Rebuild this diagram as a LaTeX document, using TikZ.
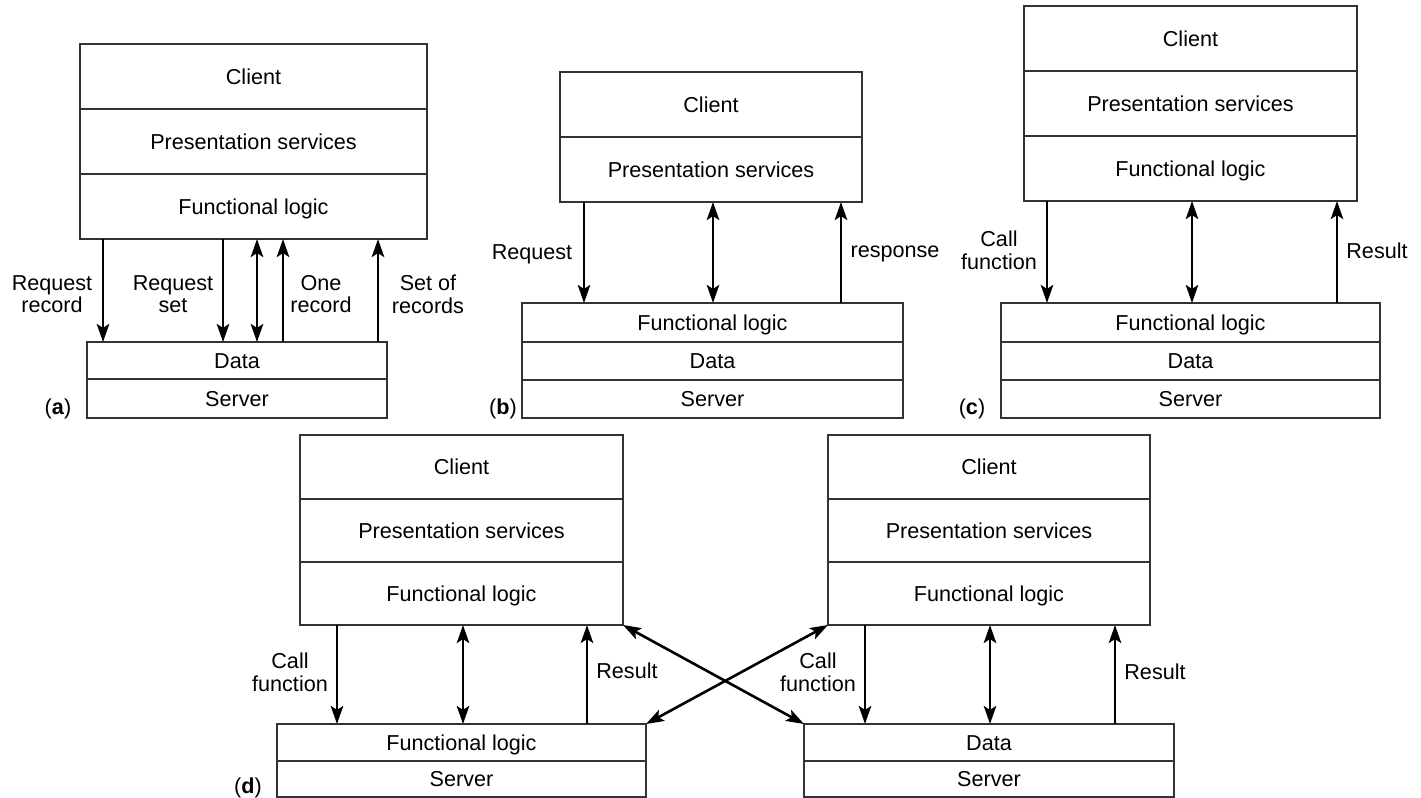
\documentclass[tikz,border=0pt]{standalone}
\usepackage{fontspec}
\setmainfont{Liberation Sans}
\usetikzlibrary{arrows.meta,calc}

% one unit = one drawing pixel, y grows downwards
\tikzset{
  x=0.5pt, y=-0.5pt,
  txt/.style={font=\fontsize{10.8}{11.3}\selectfont},
  layer/.style={txt, draw=black!80, line width=0.55pt, rectangle,
    inner sep=0pt, outer sep=0pt, text height=7.7pt, text depth=0pt},
  tag/.style={txt, align=center, inner sep=0pt},
  tip/.tip={Stealth[length=9pt,width=6.2pt,inset=2pt]},
  down/.style={line width=1.3pt, -tip},
  up/.style={line width=1.3pt, tip-},
  both/.style={line width=1.3pt, tip-tip},
}

% \tier{name}{left}{top}{right}{bottom}{text}
\newcommand\tier[6]{%
  \node[layer, minimum width={(#4-#2)*0.5pt}, minimum height={(#5-#3)*0.5pt}]
    (#1) at ({(#2+#4)/2},{(#3+#5)/2}) {#6};}
% \vlink{style}{upper node}{lower node}{x}
\newcommand\vlink[4]{%
  \draw[#1] ($(#2.south west)!(#4,0)!(#2.south east)$) --
            ($(#3.north west)!(#4,0)!(#3.north east)$);}

\begin{document}
\begin{tikzpicture}
\useasboundingbox (0,0) rectangle (1421,798);

% ---------- (a) ----------
\tier{aC}{80}{44}{427}{109}{Client}
\tier{aP}{80}{109}{427}{174}{Presentation services}
\tier{aF}{80}{174}{427}{239}{Functional logic}
\tier{aD}{87}{342}{387}{379}{Data}
\tier{aS}{87}{379}{387}{418}{Server}
\vlink{down}{aF}{aD}{103}
\vlink{down}{aF}{aD}{223}
\vlink{both}{aF}{aD}{257}
\vlink{up}{aF}{aD}{283}
\vlink{up}{aF}{aD}{378}
\node[tag] (aL1) at (52,294) {Request\\record};
\node[tag] (aL2) at (173,294) {Request\\set};
\node[tag] (aL3) at (321,294) {One\\record};
\node[tag] (aL4) at (428,294) {Set of\\records};
\node[tag] (aT) at (58,409) {(\textbf{a})};

% ---------- (b) ----------
\tier{bC}{560}{72}{862}{137}{Client}
\tier{bP}{560}{137}{862}{202}{Presentation services}
\tier{bF}{522}{303}{903}{342}{Functional logic}
\tier{bD}{522}{342}{903}{380}{Data}
\tier{bS}{522}{380}{903}{418}{Server}
\vlink{down}{bP}{bF}{584}
\vlink{both}{bP}{bF}{713}
\vlink{up}{bP}{bF}{841}
\node[tag] (bL1) at (532,254) {Request};
\node[tag] (bL2) at (895,254) {response};
\node[tag] (bT) at (503,409) {(\textbf{b})};

% ---------- (c) ----------
\tier{cC}{1024}{6}{1357}{71}{Client}
\tier{cP}{1024}{71}{1357}{136}{Presentation services}
\tier{cF}{1024}{136}{1357}{201}{Functional logic}
\tier{cG}{1001}{303}{1380}{342}{Functional logic}
\tier{cD}{1001}{342}{1380}{380}{Data}
\tier{cS}{1001}{380}{1380}{418}{Server}
\vlink{down}{cF}{cG}{1047}
\vlink{both}{cF}{cG}{1192}
\vlink{up}{cF}{cG}{1337}
\node[tag] (cL1) at (999,250) {Call\\function};
\node[tag] (cL2) at (1377,251) {Result};
\node[tag] (cT) at (972,409) {(\textbf{c})};

% ---------- (d) ----------
\tier{dC}{300}{435}{623}{499}{Client}
\tier{dP}{300}{499}{623}{562}{Presentation services}
\tier{dF}{300}{562}{623}{625}{Functional logic}
\tier{dG}{277}{724}{646}{761}{Functional logic}
\tier{dS}{277}{761}{646}{797}{Server}
\vlink{down}{dF}{dG}{337}
\vlink{both}{dF}{dG}{463}
\vlink{up}{dF}{dG}{587}
\node[tag] (dL1) at (290,672) {Call\\function};
\node[tag] (dL2) at (627,671) {Result};
\node[tag] (dT) at (248,788) {(\textbf{d})};

\tier{eC}{828}{435}{1150}{499}{Client}
\tier{eP}{828}{499}{1150}{562}{Presentation services}
\tier{eF}{828}{562}{1150}{625}{Functional logic}
\tier{eD}{804}{724}{1174}{761}{Data}
\tier{eS}{804}{761}{1174}{797}{Server}
\vlink{down}{eF}{eD}{865}
\vlink{both}{eF}{eD}{990}
\vlink{up}{eF}{eD}{1115}
\node[tag] (eL1) at (818,672) {Call\\function};
\node[tag] (eL2) at (1155,672) {Result};

% crossing links between the two systems
\draw[both] (dF.south east) -- (eD.north west);
\draw[both] (eF.south west) -- (dG.north east);
\end{tikzpicture}
\end{document}
